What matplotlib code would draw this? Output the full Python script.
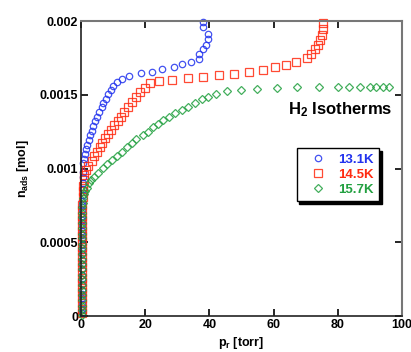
import numpy as np
import matplotlib
matplotlib.use("Agg")
import matplotlib.pyplot as plt
from matplotlib.ticker import FuncFormatter, MultipleLocator

plt.rcParams["font.family"] = ["Liberation Sans", "DejaVu Sans"]
plt.rcParams["font.weight"] = "bold"
plt.rcParams["mathtext.fontset"] = "custom"
plt.rcParams["mathtext.rm"] = "Liberation Sans:bold"
plt.rcParams["mathtext.bf"] = "Liberation Sans:bold"
plt.rcParams["mathtext.it"] = "Liberation Sans:bold"
plt.rcParams["mathtext.default"] = "bf"

# ---- data (pressure in torr, n_ads in mol) ----
p_131 = [0.2, 0.2, 0.2, 0.2, 0.2, 0.25, 0.25, 0.25, 0.25, 0.25, 0.3, 0.3, 0.3, 0.3,
         0.3, 0.3, 0.35, 0.35, 0.35, 0.35, 0.4, 0.4, 0.4, 0.45, 0.5, 0.55, 0.6, 0.65,
         0.7, 0.73, 0.93, 1.25, 1.56, 1.97, 2.39, 2.8, 3.32, 3.84, 4.47, 5.09, 5.71,
         6.44, 6.96, 7.79, 8.5, 9.24, 10.07, 11.1, 12.7, 15.1, 18.6, 22.0, 25.4, 29.0,
         31.6, 34.3, 36.8, 36.7, 37.9, 38.9, 39.6, 39.6, 38.1, 38.1]
n_131 = [0.00002, 0.00005, 0.00008, 0.00012, 0.00015, 0.00018, 0.00022, 0.00025,
         0.00028, 0.00032, 0.00035, 0.00038, 0.00042, 0.00045, 0.00048, 0.00052,
         0.00055, 0.00058, 0.00062, 0.00065, 0.00068, 0.00072, 0.00075, 0.00078,
         0.00082, 0.00086, 0.0009, 0.00094, 0.00098, 0.001035, 0.001067, 0.001098,
         0.00113, 0.001161, 0.001193, 0.001225, 0.001256, 0.001288, 0.001322,
         0.001351, 0.001383, 0.001415, 0.001442, 0.001473, 0.001503, 0.001532,
         0.001559, 0.001588, 0.001609, 0.001627, 0.001645, 0.001658, 0.001672,
         0.001687, 0.001706, 0.001724, 0.001745, 0.001775, 0.001808, 0.00184,
         0.001876, 0.001913, 0.00196, 0.001995]

p_145 = [0.3, 0.3, 0.3, 0.3, 0.3, 0.3, 0.3, 0.3, 0.35, 0.35, 0.35, 0.35, 0.35, 0.35,
         0.4, 0.4, 0.4, 0.4, 0.4, 0.45, 0.45, 0.45, 0.5, 0.6, 0.7, 0.8, 0.93, 1.56,
         2.29, 3.32, 4.05, 4.88, 5.92, 6.64, 7.48, 8.5, 9.35, 10.4, 11.4, 12.5, 13.5,
         14.7, 15.8, 17.1, 18.4, 19.9, 21.5, 24.4, 28.3, 33.2, 38.0, 43.0, 47.8, 52.4,
         56.8, 60.4, 63.9, 66.9, 70.3, 71.7, 72.9, 73.9, 74.6, 75.1, 75.3, 75.3]
n_145 = [0.00002, 0.00005, 0.00009, 0.00012, 0.00016, 0.00019, 0.00023, 0.00026,
         0.0003, 0.00033, 0.00037, 0.0004, 0.00044, 0.00047, 0.00051, 0.00054,
         0.00058, 0.00061, 0.00065, 0.00068, 0.00072, 0.00075, 0.00081, 0.00085,
         0.00088, 0.00092, 0.000956, 0.00099, 0.001019, 0.001053, 0.001085,
         0.001114, 0.001148, 0.001175, 0.001205, 0.001234, 0.001261, 0.001295,
         0.001324, 0.001351, 0.001385, 0.001419, 0.001453, 0.001487, 0.001521,
         0.001548, 0.001578, 0.001591, 0.001602, 0.001613, 0.001623, 0.001633,
         0.00164, 0.001656, 0.001668, 0.001686, 0.001702, 0.001724, 0.001747,
         0.001774, 0.001808, 0.001837, 0.001871, 0.001905, 0.001944, 0.001984]

p_157 = [0.3, 0.3, 0.3, 0.3, 0.3, 0.3, 0.3, 0.3, 0.35, 0.35, 0.35, 0.35, 0.35, 0.35,
         0.4, 0.4, 0.4, 0.4, 0.4, 0.45, 0.45, 0.45, 0.5, 0.6, 0.9, 1.3, 1.9, 2.5, 3.2,
         4.05, 5.4, 6.75, 8.2, 9.56, 11.1, 12.7, 14.2, 15.8, 17.3, 19.2, 20.8, 22.5,
         24.1, 25.6, 27.5, 29.3, 31.4, 33.4, 35.5, 37.6, 39.6, 42.2, 45.6, 49.8, 54.9,
         61.0, 67.4, 74.1, 80.1, 83.6, 86.8, 89.9, 92.0, 94.2, 96.0]
n_157 = [0.00001, 0.00004, 0.00007, 0.00011, 0.00014, 0.00018, 0.00021, 0.00025,
         0.00028, 0.00032, 0.00035, 0.00039, 0.00042, 0.00046, 0.00049, 0.00053,
         0.00056, 0.0006, 0.00063, 0.00067, 0.0007, 0.00074, 0.00077, 0.0008,
         0.00083, 0.00085, 0.00087, 0.0009, 0.00092, 0.000944, 0.000972, 0.001001,
         0.00103, 0.001058, 0.001087, 0.001114, 0.001148, 0.001175, 0.0012,
         0.001227, 0.00125, 0.001279, 0.001302, 0.001329, 0.001351, 0.001374,
         0.001397, 0.001419, 0.001442, 0.001469, 0.001487, 0.001505, 0.001525,
         0.001535, 0.001541, 0.001548, 0.001551, 0.001553, 0.001556, 0.001556,
         0.001556, 0.001556, 0.001556, 0.001556, 0.001556]

labels = ["13.1K", "14.5K", "15.7K"]
colors = ["#2233ee", "#ff2a10", "#22a040"]
markers = ["o", "s", "D"]
sizes = [4.6, 5.2, 4.2]

fig = plt.figure(figsize=(4.11, 3.52), dpi=100)
ax = fig.add_axes([0.197, 0.102, 0.781, 0.838])

series = [(p_131, n_131), (p_145, n_145), (p_157, n_157)]
for (p, n), lab, c, m, s in zip(series, labels, colors, markers, sizes):
    ax.plot(p, n, linestyle="none", marker=m, markersize=s, markerfacecolor="none",
            markeredgecolor=c, markeredgewidth=0.9, alpha=0.85, label=lab,
            clip_on=False)

ax.set_xlim(0, 100)
ax.set_ylim(0, 0.002)
ax.xaxis.set_major_locator(MultipleLocator(20))
ax.yaxis.set_major_locator(MultipleLocator(0.0005))
ax.yaxis.set_major_formatter(FuncFormatter(lambda v, pos: "%g" % v))
ax.tick_params(direction="in", length=5, width=1.2, labelsize=9,
               top=True, right=True, pad=2)
for lab in ax.get_xticklabels() + ax.get_yticklabels():
    lab.set_fontweight("bold")

for side in ["left", "bottom"]:
    ax.spines[side].set_color("#222222")
    ax.spines[side].set_linewidth(1.2)
for side in ["top", "right"]:
    ax.spines[side].set_color("#777777")
    ax.spines[side].set_linewidth(1.5)

ax.set_xlabel("p$_{r}$ [torr]", fontsize=9, fontweight="bold", labelpad=3)
ax.set_ylabel("n$_{ads}$ [mol]", fontsize=9, fontweight="bold", labelpad=6)

ax.text(64.5, 0.00140, "H$_{2}$ Isotherms", fontsize=12, fontweight="bold",
        va="center", ha="left")

leg = ax.legend(loc="upper right", bbox_to_anchor=(0.928, 0.569),
                borderaxespad=0, fancybox=False, framealpha=1,
                shadow={"color": "black", "alpha": 1, "ox": 2, "oy": -2},
                handlelength=2.5, handletextpad=0.25, borderpad=0.4,
                labelspacing=0.2, fontsize=9.5, markerfirst=True)
leg.get_frame().set_edgecolor("black")
leg.get_frame().set_linewidth(1.0)
for t, c in zip(leg.get_texts(), colors):
    t.set_color(c)
    t.set_fontweight("bold")

fig.savefig("out.png", dpi=100)
